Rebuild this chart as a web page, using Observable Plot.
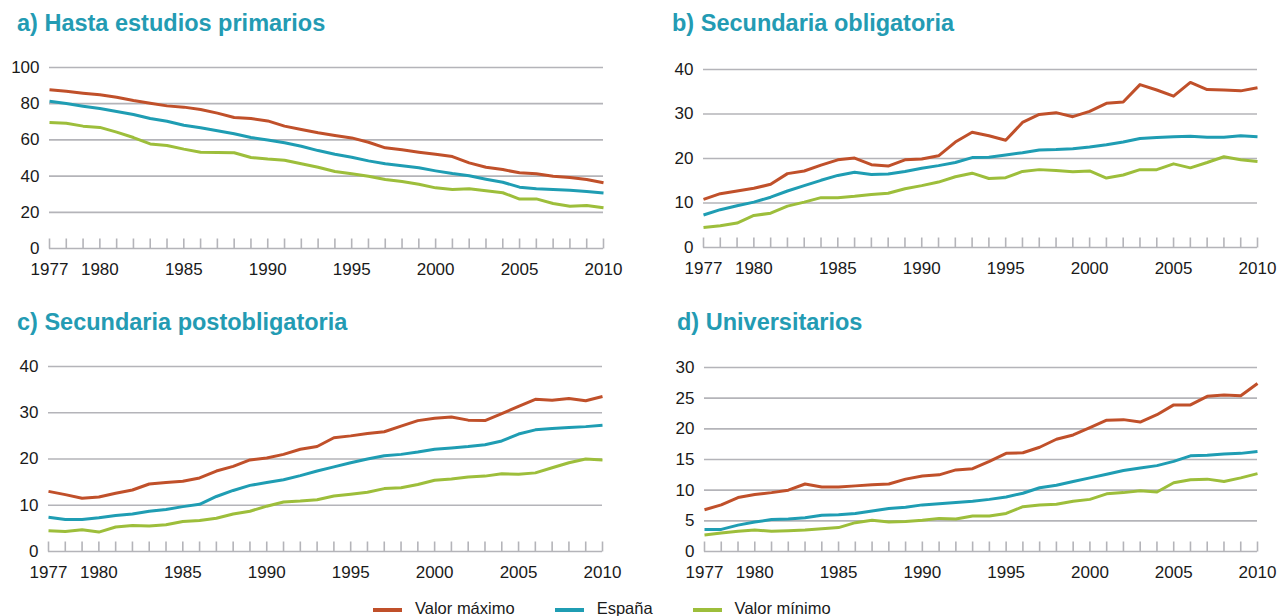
<!DOCTYPE html>
<html>
<head>
<meta charset="utf-8">
<script src="https://cdn.jsdelivr.net/npm/d3@7"></script>
<script src="https://cdn.jsdelivr.net/npm/@observablehq/plot@0.6"></script>
<style>
  body { margin: 0; background: #fff; font-family: "Liberation Sans", Arial, sans-serif; }
  #root { position: relative; width: 1285px; height: 616px; overflow: hidden; background: #fff; }
  .title { position: absolute; font-weight: bold; font-size: 23.5px; line-height: 1; color: #239bb3; white-space: nowrap; }
  .panel { position: absolute; }
  .panel svg { display: block; overflow: visible; }
  #legend { position: absolute; top: 598px; left: 373px; display: flex; align-items: center; font-size: 16.5px; color: #1a1a1a; line-height: 20px; }
  .item { display: flex; align-items: center; margin-right: 40px; }
  .sw { width: 29px; height: 4px; margin-right: 13px; margin-top: 3px; }
</style>
</head>
<body>
<div id="root"></div>
<script>
// ---- Data ----
const years = [1977, 1978, 1979, 1980, 1981, 1982, 1983, 1984, 1985, 1986, 1987, 1988, 1989, 1990, 1991, 1992, 1993,
               1994, 1995, 1996, 1997, 1998, 1999, 2000, 2001, 2002, 2003, 2004, 2005, 2006, 2007, 2008, 2009, 2010];
const xTickLabels = [1977, 1980, 1985, 1990, 1995, 2000, 2005, 2010];
const seriesNames = ["Valor máximo", "España", "Valor mínimo"];
const seriesColors = ["#c0502a", "#1f9db3", "#9dbe3b"];

const panelTitles = ["a) Hasta estudios primarios", "b) Secundaria obligatoria", "c) Secundaria postobligatoria", "d) Universitarios"];

const aTicks = [0, 20, 40, 60, 80, 100];
const a_max = [87.7, 86.9, 85.8, 84.9, 83.6, 81.8, 80.3, 78.8, 78.1, 76.8, 74.8, 72.4, 71.8, 70.5, 67.6, 65.7, 63.9, 62.4, 61.1, 58.7, 55.6, 54.5, 53.2, 52.1, 50.8, 47.3, 44.9, 43.6, 41.8, 41.3, 39.9, 39.2, 38.1, 36.3];
const a_esp = [81.4, 80.1, 78.6, 77.3, 75.7, 74.0, 71.8, 70.3, 68.1, 66.7, 65.0, 63.4, 61.3, 60.0, 58.4, 56.5, 54.1, 52.1, 50.4, 48.4, 46.8, 45.7, 44.6, 42.9, 41.4, 40.2, 38.3, 36.6, 33.9, 33.0, 32.6, 32.2, 31.5, 30.6];
const a_min = [69.6, 69.2, 67.6, 66.9, 64.3, 61.3, 57.8, 56.9, 54.9, 53.2, 53.0, 52.9, 50.3, 49.4, 48.8, 46.8, 44.9, 42.5, 41.3, 39.9, 38.1, 37.0, 35.5, 33.5, 32.6, 33.0, 31.9, 30.8, 27.3, 27.4, 24.9, 23.4, 23.8, 22.5];

const bTicks = [0, 10, 20, 30, 40];
const b_max = [10.8, 12.1, 12.7, 13.3, 14.2, 16.6, 17.2, 18.5, 19.7, 20.1, 18.6, 18.3, 19.7, 19.9, 20.6, 23.7, 25.9, 25.1, 24.1, 28.1, 29.9, 30.3, 29.4, 30.6, 32.4, 32.7, 36.6, 35.4, 34.0, 37.1, 35.5, 35.4, 35.2, 35.9];
const b_esp = [7.3, 8.5, 9.4, 10.2, 11.3, 12.7, 13.9, 15.1, 16.2, 16.9, 16.4, 16.5, 17.1, 17.8, 18.4, 19.1, 20.2, 20.3, 20.8, 21.3, 21.9, 22.0, 22.2, 22.6, 23.1, 23.7, 24.5, 24.7, 24.9, 25.0, 24.8, 24.8, 25.1, 24.9];
const b_min = [4.5, 4.9, 5.5, 7.2, 7.7, 9.3, 10.2, 11.2, 11.2, 11.5, 11.9, 12.2, 13.2, 13.9, 14.7, 15.9, 16.7, 15.5, 15.7, 17.1, 17.5, 17.3, 17.0, 17.2, 15.6, 16.3, 17.5, 17.5, 18.8, 17.9, 19.1, 20.4, 19.7, 19.3];

const cTicks = [0, 10, 20, 30, 40];
const c_max = [13.0, 12.3, 11.5, 11.8, 12.6, 13.3, 14.6, 14.9, 15.2, 15.9, 17.4, 18.4, 19.8, 20.2, 21.0, 22.1, 22.7, 24.6, 25.0, 25.5, 25.9, 27.1, 28.3, 28.8, 29.1, 28.4, 28.3, 29.8, 31.4, 32.9, 32.7, 33.1, 32.6, 33.5];
const c_esp = [7.4, 6.9, 6.9, 7.3, 7.8, 8.1, 8.7, 9.1, 9.7, 10.2, 11.9, 13.2, 14.3, 14.9, 15.5, 16.4, 17.4, 18.3, 19.2, 20.0, 20.7, 21.0, 21.5, 22.1, 22.4, 22.7, 23.1, 23.9, 25.4, 26.3, 26.6, 26.8, 27.0, 27.3];
const c_min = [4.5, 4.3, 4.7, 4.2, 5.3, 5.6, 5.5, 5.8, 6.5, 6.7, 7.2, 8.1, 8.7, 9.8, 10.7, 10.9, 11.2, 12.0, 12.4, 12.8, 13.6, 13.8, 14.5, 15.4, 15.7, 16.1, 16.3, 16.8, 16.7, 17.0, 18.1, 19.2, 20.0, 19.8];

const dTicks = [0, 5, 10, 15, 20, 25, 30];
const d_max = [6.8, 7.6, 8.8, 9.3, 9.6, 10.0, 11.0, 10.5, 10.5, 10.7, 10.9, 11.0, 11.8, 12.3, 12.5, 13.3, 13.5, 14.7, 16.0, 16.1, 17.0, 18.3, 19.0, 20.2, 21.4, 21.5, 21.1, 22.3, 23.9, 23.9, 25.3, 25.5, 25.4, 27.4];
const d_esp = [3.6, 3.6, 4.3, 4.8, 5.2, 5.3, 5.5, 5.9, 6.0, 6.2, 6.6, 7.0, 7.2, 7.6, 7.8, 8.0, 8.2, 8.5, 8.9, 9.5, 10.4, 10.8, 11.4, 12.0, 12.6, 13.2, 13.6, 14.0, 14.7, 15.6, 15.7, 15.9, 16.0, 16.3];
const d_min = [2.7, 3.0, 3.3, 3.5, 3.3, 3.4, 3.5, 3.7, 3.9, 4.7, 5.1, 4.8, 4.9, 5.1, 5.4, 5.3, 5.8, 5.8, 6.2, 7.3, 7.6, 7.7, 8.2, 8.5, 9.4, 9.6, 9.9, 9.7, 11.2, 11.7, 11.8, 11.4, 12.0, 12.7];

// ---- Layout ----
const gridColor = "#b4b4b9";
const textColor = "#1a1a1a";
const panels = [
  { title: panelTitles[0], tx: 17, ty: 12, left: 0,   top: 50,  width: 640, height: 240, mL: 49, mR: 37, mT: 17, mB: 42, ticks: aTicks, dom: [0, 100], series: [a_max, a_esp, a_min] },
  { title: panelTitles[1], tx: 672, ty: 12, left: 640, top: 50,  width: 645, height: 240, mL: 63, mR: 28, mT: 19, mB: 43, ticks: bTicks, dom: [0, 40], series: [b_max, b_esp, b_min] },
  { title: panelTitles[2], tx: 17, ty: 311, left: 0,   top: 345, width: 640, height: 240, mL: 48, mR: 38, mT: 21, mB: 34, ticks: cTicks, dom: [0, 40], series: [c_max, c_esp, c_min] },
  { title: panelTitles[3], tx: 677, ty: 311, left: 640, top: 345, width: 645, height: 240, mL: 64, mR: 28, mT: 22, mB: 34, ticks: dTicks, dom: [0, 30], series: [d_max, d_esp, d_min] }
];

const tickSymbol = { draw(ctx) { ctx.moveTo(0, 0); ctx.lineTo(0, -10); } };

const root = document.getElementById("root");

for (const p of panels) {
  const t = document.createElement("div");
  t.className = "title";
  t.style.left = p.tx + "px";
  t.style.top = p.ty + "px";
  t.textContent = p.title;
  root.appendChild(t);

  const rows = [];
  p.series.forEach((vals, si) => {
    vals.forEach((v, i) => rows.push({ year: years[i], value: v, serie: seriesNames[si] }));
  });

  const chart = Plot.plot({
    width: p.width,
    height: p.height,
    marginLeft: p.mL,
    marginRight: p.mR,
    marginTop: p.mT,
    marginBottom: p.mB,
    style: { fontFamily: "Liberation Sans, Arial, sans-serif", fontSize: "17px", color: textColor, background: "transparent", overflow: "visible" },
    x: { domain: [1977, 2010] },
    y: { domain: p.dom },
    color: { domain: seriesNames, range: seriesColors },
    marks: [
      Plot.ruleY(p.ticks, { y: d => d, stroke: gridColor, strokeWidth: 1.7 }),
      Plot.dot(years, { x: d => d, y: 0, symbol: tickSymbol, stroke: gridColor, strokeWidth: 1.6, fill: "none", r: 3 }),
      Plot.line(rows, { x: "year", y: "value", z: "serie", stroke: "serie", strokeWidth: 3, strokeLinejoin: "round", strokeLinecap: "butt" }),
      Plot.axisY({ ticks: p.ticks, tickSize: 0, tickPadding: 10, label: null, fontSize: 17, tickFormat: d => String(d) }),
      Plot.axisX({ ticks: xTickLabels, tickSize: 0, tickPadding: 14, label: null, fontSize: 17, tickFormat: d => String(d) })
    ]
  });
  const wrap = document.createElement("div");
  wrap.className = "panel";
  wrap.style.left = p.left + "px";
  wrap.style.top = p.top + "px";
  wrap.appendChild(chart);
  root.appendChild(wrap);
}

// ---- Legend ----
const legend = document.createElement("div");
legend.id = "legend";
seriesNames.forEach((name, i) => {
  const item = document.createElement("div");
  item.className = "item";
  const sw = document.createElement("span");
  sw.className = "sw";
  sw.style.background = seriesColors[i];
  const tx = document.createElement("span");
  tx.textContent = name;
  item.appendChild(sw);
  item.appendChild(tx);
  legend.appendChild(item);
});
root.appendChild(legend);
</script>
</body>
</html>
